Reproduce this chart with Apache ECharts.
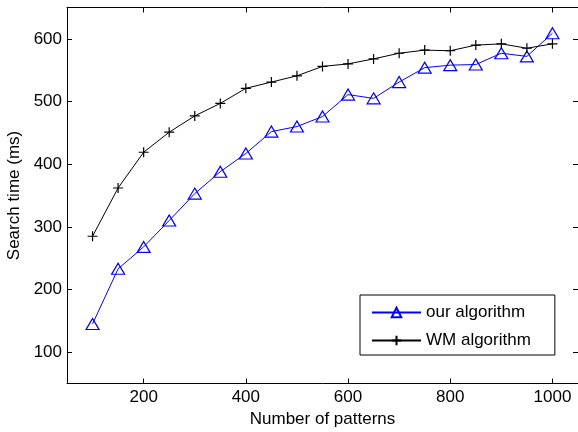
<!DOCTYPE html>
<html><head><meta charset="utf-8">
<script src="https://cdn.jsdelivr.net/npm/echarts@6/dist/echarts.min.js"></script>
<style>html,body{margin:0;padding:0;background:#fff}#c{width:578px;height:432px}</style>
</head><body><div id="c"></div>
<script>
const patterns = [100,150,200,250,300,350,400,450,500,550,600,650,700,750,800,850,900,950,1000];
const ourAlgorithm = [145,233,268,310,353,388,417,452,460,476,511,505,531,554,558,559,577,572,609];
const wmAlgorithm = [285,362,419,451,477,497,521,531,541,556,560,568,577,582,581,590,592,585,592];
const xTicks = [200,400,600,800,1000];
const yTicks = [100,200,300,400,500,600];

const FONT = 'Liberation Sans, Arial, sans-serif';
const chart = echarts.init(document.getElementById('c'), null, {renderer:'canvas'});
const axisLine = {show:true, onZero:false, lineStyle:{color:'#000', width:1}};
const tick = (vals)=>({show:true, inside:true, length:5, customValues:vals, lineStyle:{color:'#000', width:1}});
const plusPath = 'path://M0,5 L10,5 M5,0 L5,10';
chart.setOption({
  animation:false,
  grid:{left:67, right:0, top:7.5, bottom:48.5, containLabel:false, outerBoundsMode:'none'},
  legend:{
    orient:'vertical', left:360, top:295,
    padding:[9,24,6,11], itemWidth:49, itemHeight:12, itemGap:11,
    backgroundColor:'#fff', borderColor:'#000', borderWidth:1, borderRadius:0,
    textStyle:{fontFamily:FONT, fontSize:17, color:'#000'},
    data:['our algorithm','WM algorithm']
  },
  xAxis:[
    {type:'value', min:50, max:1050, position:'bottom',
     name:'Number of patterns', nameLocation:'middle', nameGap:27,
     nameTextStyle:{fontFamily:FONT, fontSize:17, color:'#000'},
     axisLine:axisLine, axisTick:tick(xTicks),
     axisLabel:{customValues:xTicks, formatter:(v)=>String(v), fontFamily:FONT, fontSize:17, color:'#000', margin:5},
     splitLine:{show:false}},
    {type:'value', min:50, max:1050, position:'top',
     axisLine:axisLine, axisTick:tick(xTicks), axisLabel:{show:false}, splitLine:{show:false}}
  ],
  yAxis:[
    {type:'value', min:50, max:650, position:'left',
     name:'Search time (ms)', nameLocation:'middle', nameGap:41,
     nameTextStyle:{fontFamily:FONT, fontSize:17, color:'#000'},
     axisLine:axisLine, axisTick:tick(yTicks),
     axisLabel:{customValues:yTicks, formatter:(v)=>String(v), fontFamily:FONT, fontSize:17, color:'#000', margin:5},
     splitLine:{show:false}},
    {type:'value', min:50, max:650, position:'right',
     axisLine:axisLine, axisTick:tick(yTicks), axisLabel:{show:false}, splitLine:{show:false}}
  ],
  series:[
    {name:'our algorithm', type:'line', xAxisIndex:0, yAxisIndex:0,
     data:patterns.map((p,i)=>[p, ourAlgorithm[i]]),
     symbol:'triangle', symbolSize:[13,11], showAllSymbol:true,
     lineStyle:{color:'#0000ff', width:1},
     itemStyle:{color:'none', borderColor:'#0000ff', borderWidth:1.2}},
    {name:'WM algorithm', type:'line', xAxisIndex:0, yAxisIndex:0,
     data:patterns.map((p,i)=>[p, wmAlgorithm[i]]),
     symbol:plusPath, symbolSize:10, showAllSymbol:true,
     lineStyle:{color:'#000', width:1},
     itemStyle:{color:'none', borderColor:'#000', borderWidth:1.2}}
  ]
});
</script></body></html>
